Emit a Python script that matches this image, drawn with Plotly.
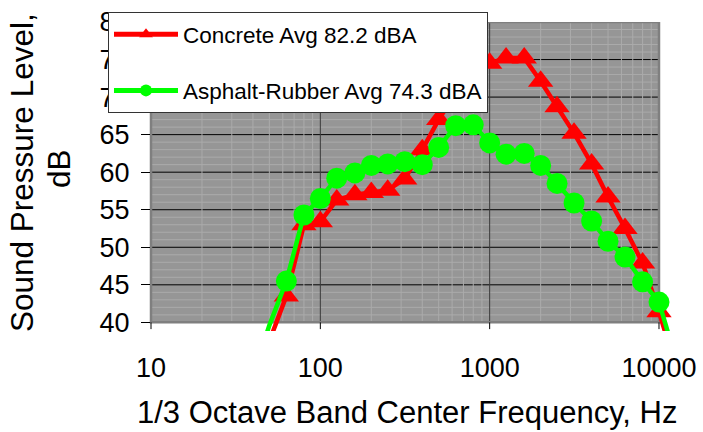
import numpy as np
import plotly.graph_objects as go

# ---------------- data ----------------
freq_hz = [40, 50, 63, 80, 100, 125, 160, 200, 250, 315, 400, 500, 630, 800,
           1000, 1250, 1600, 2000, 2500, 3150, 4000, 5000, 6300, 8000, 10000, 12500]
concrete_db = [None, 37.5, 43.5, 53.0, 53.4, 56.3, 57.0, 57.3, 57.6, 59.1, 63.0, 67.0, 70.5, 73.0,
               74.5, 75.2, 75.2, 72.1, 68.7, 65.2, 61.1, 56.7, 52.5, 47.9, 41.4, 34.2]
asphalt_db = [33.0, 39.6, 45.5, 54.3, 56.5, 59.2, 59.9, 60.9, 61.1, 61.4, 61.0, 63.3, 66.2, 66.3,
              63.9, 62.4, 62.5, 60.9, 58.5, 55.9, 53.5, 50.8, 48.7, 45.4, 42.7, 35.3]
series_names = ["Concrete Avg 82.2 dBA", "Asphalt-Rubber Avg 74.3 dBA"]
x_tick_vals = [10, 100, 1000, 10000]
x_tick_text = ["10", "100", "1000", "10000"]
y_tick_vals = [40, 45, 50, 55, 60, 65, 70, 75, 80]
x_title = "1/3 Octave Band Center Frequency, Hz"
y_title_lines = ["Sound Pressure Level,", "dB"]

# ---------------- layout constants ----------------
W, H = 703, 432
ML, MR, MT, MB = 151, 31, 22, 101
PW, PH = W - ML - MR, H - MT - MB
X_LOG_RANGE = [1.0, 4.0768]
Y_RANGE = [38.85, 80]
FRAME_X = [10, 10000]
FRAME_Y = [40, 80]
FONT = "Liberation Sans, Arial, sans-serif"


def xp(f):
    return (np.log10(f) - X_LOG_RANGE[0]) / (X_LOG_RANGE[1] - X_LOG_RANGE[0])


def px_x(px):
    return (px - ML) / PW


def px_y(py):
    return (H - MB - py) / PH


def visible_sizes(vals, size):
    return [0 if (v is None or v < FRAME_Y[0]) else size for v in vals]


fig = go.Figure()
fig.add_trace(go.Scatter(
    x=freq_hz, y=concrete_db, name=series_names[0], mode="lines+markers",
    legendgroup="a",
    line=dict(color="#ff0000", width=4.5),
    marker=dict(symbol="triangle-up", color="#ff0000", opacity=1,
                size=visible_sizes(concrete_db, 22), line=dict(width=0)),
))
fig.add_trace(go.Scatter(
    x=freq_hz, y=asphalt_db, name=series_names[1], mode="lines+markers",
    legendgroup="b",
    line=dict(color="#00ff00", width=4.5),
    marker=dict(symbol="circle", color="#00ff00", opacity=1,
                size=visible_sizes(asphalt_db, 21), line=dict(width=0)),
))

shapes = []
x0f, x1f = float(xp(FRAME_X[0])), float(xp(FRAME_X[1]))
# gray plot background
shapes.append(dict(type="rect", xref="paper", yref="y", x0=x0f, x1=x1f,
                   y0=FRAME_Y[0], y1=FRAME_Y[1], fillcolor="#969696",
                   line=dict(width=0), layer="below"))
# horizontal minor grid
for v in range(FRAME_Y[0] + 1, FRAME_Y[1]):
    if v % 5:
        shapes.append(dict(type="line", xref="paper", yref="y", x0=x0f, x1=x1f,
                           y0=v, y1=v, line=dict(color="#ababab", width=1), layer="below"))
# horizontal major grid
for v in y_tick_vals[1:-1]:
    shapes.append(dict(type="line", xref="paper", yref="y", x0=x0f, x1=x1f,
                       y0=v, y1=v, line=dict(color="#000000", width=1), layer="below"))
# vertical minor grid
for dec in [10, 100, 1000]:
    for m in range(2, 10):
        f = dec * m
        shapes.append(dict(type="line", xref="paper", yref="y", x0=float(xp(f)), x1=float(xp(f)),
                           y0=FRAME_Y[0], y1=FRAME_Y[1], line=dict(color="#ababab", width=1),
                           layer="below"))
# vertical major grid
for f in x_tick_vals[1:-1]:
    shapes.append(dict(type="line", xref="paper", yref="y", x0=float(xp(f)), x1=float(xp(f)),
                       y0=FRAME_Y[0], y1=FRAME_Y[1], line=dict(color="#3a3a3a", width=1),
                       layer="below"))
# frame
shapes.append(dict(type="rect", xref="paper", yref="y", x0=x0f, x1=x1f,
                   y0=FRAME_Y[0], y1=FRAME_Y[1], line=dict(color="#7f7f7f", width=2.5),
                   fillcolor="rgba(0,0,0,0)", layer="below"))
# x tick marks below the frame
for f in x_tick_vals:
    shapes.append(dict(type="line", xref="paper", yref="y", x0=float(xp(f)), x1=float(xp(f)),
                       y0=FRAME_Y[0], y1=FRAME_Y[0] - 0.9, line=dict(color="#000000", width=1),
                       layer="below"))

annotations = [
    dict(text=x_title, xref="paper", yref="paper", x=px_x(406.5), y=px_y(431.5),
         showarrow=False, xanchor="center", yanchor="bottom",
         font=dict(family=FONT, size=31, color="#000000")),
    dict(text=y_title_lines[0], xref="paper", yref="paper", x=px_x(21.5), y=px_y(172.5),
         showarrow=False, xanchor="center", yanchor="middle", textangle=-90,
         font=dict(family=FONT, size=31.5, color="#000000")),
    dict(text=y_title_lines[1], xref="paper", yref="paper", x=px_x(58.5), y=px_y(168.5),
         showarrow=False, xanchor="center", yanchor="middle", textangle=-90,
         font=dict(family=FONT, size=31.5, color="#000000")),
]

fig.update_layout(
    width=W, height=H,
    margin=dict(l=ML, r=MR, t=MT, b=MB, pad=0, autoexpand=False),
    paper_bgcolor="white", plot_bgcolor="white",
    font=dict(family=FONT, color="#000000"),
    shapes=shapes, annotations=annotations,
    showlegend=True,
    legend=dict(x=px_x(108), y=px_y(12), xanchor="left", yanchor="top",
                bgcolor="white", bordercolor="#333333", borderwidth=1,
                font=dict(family=FONT, size=22.5, color="#000000"),
                itemwidth=64, tracegroupgap=24, traceorder="grouped",
                itemsizing="constant"),
    xaxis=dict(type="log", range=X_LOG_RANGE, tickvals=x_tick_vals, ticktext=x_tick_text,
               showgrid=False, zeroline=False, showline=False, ticks="",
               ticklabelstandoff=18, tickfont=dict(family=FONT, size=27)),
    yaxis=dict(range=Y_RANGE, tickvals=y_tick_vals, showgrid=False, zeroline=False,
               showline=False, ticks="outside", ticklen=9, tickwidth=1, tickcolor="#000000",
               ticklabelstandoff=6, tickfont=dict(family=FONT, size=27)),
)

fig.write_html("out.html", config={"displayModeBar": False},
               post_script="document.body.style.margin='0';")
